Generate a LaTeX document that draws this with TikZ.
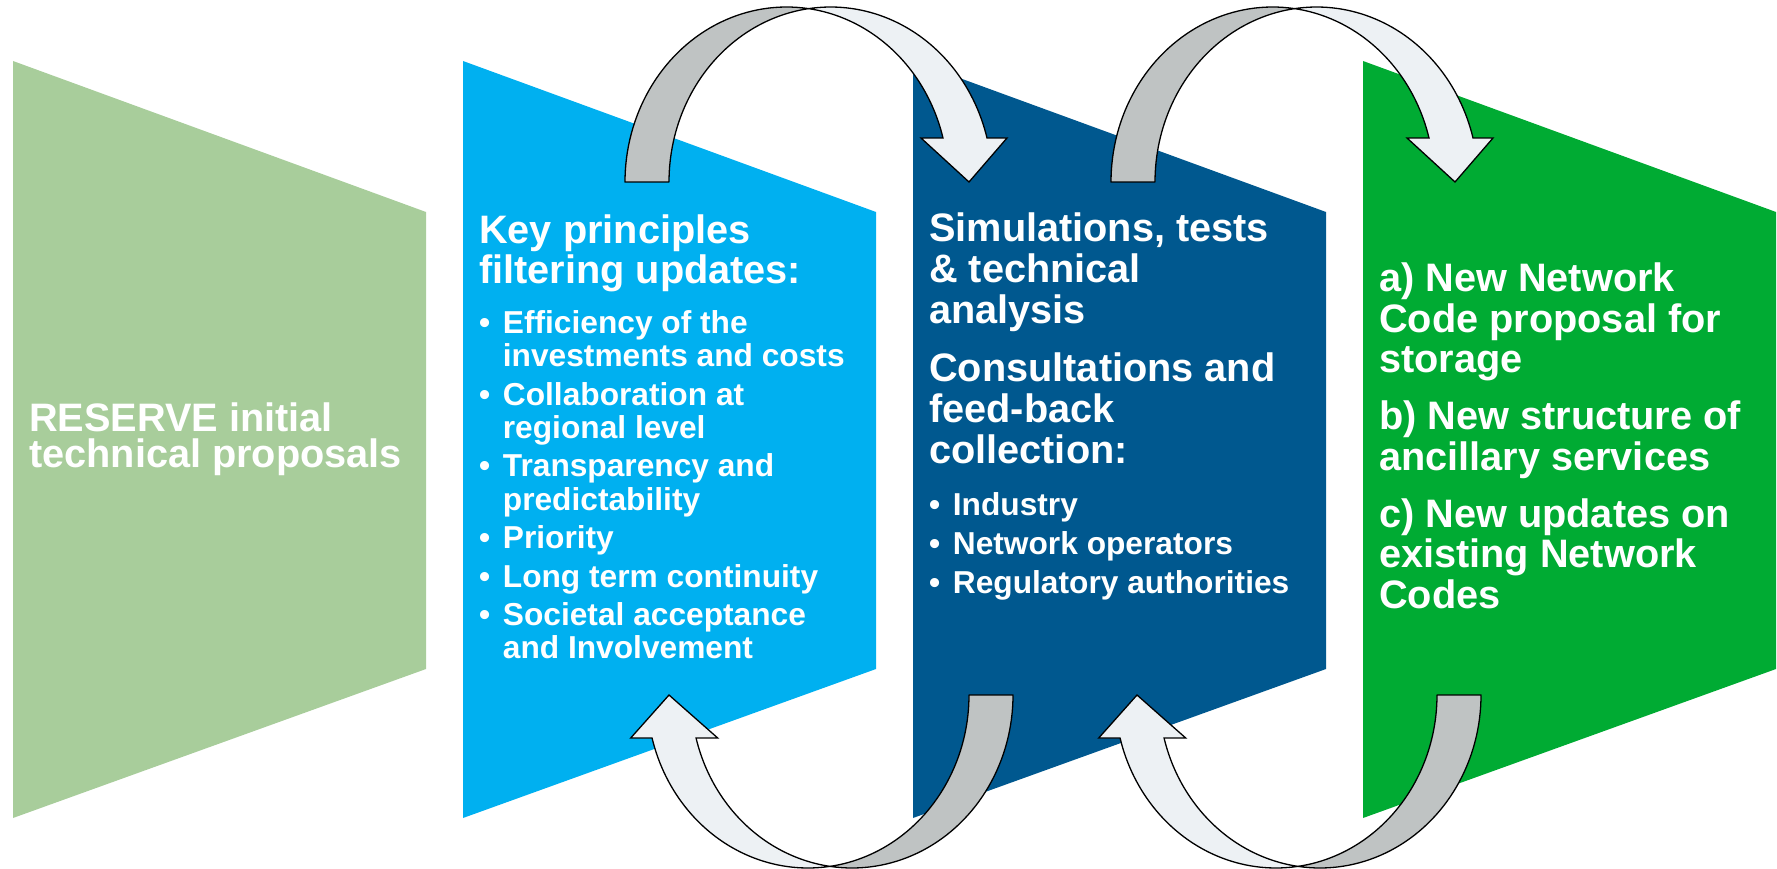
\documentclass[tikz,border=0pt]{standalone}
\usepackage{fontspec}
\setmainfont{Liberation Sans}
\definecolor{pgreenl}{HTML}{A8CD9B}
\definecolor{pbluel}{HTML}{00B0F0}
\definecolor{pblued}{HTML}{00588F}
\definecolor{pgreen}{HTML}{00AB33}
\definecolor{argray}{HTML}{BFC3C3}
\definecolor{arlight}{HTML}{EDF1F4}
\newcommand\HdBlock[2]{\vtop{\hsize=420pt\parindent=0pt\fontsize{39.7}{#1}\selectfont\bfseries\baselineskip=#1pt\lineskiplimit=-100pt\lineskip=0pt #2\par}}
\newcommand\BuBlock[2]{\vtop{\hsize=420pt\parindent=0pt\fontsize{31.7}{#1}\selectfont\bfseries\baselineskip=#1pt\lineskiplimit=-100pt\lineskip=0pt #2\par}}
\newcommand\Bul{\makebox[23.7pt][l]{\textbullet}}
\newcommand\Ind{\hspace*{23.7pt}}
\newcommand\TopArrow[1]{%
\begin{scope}[shift={(#1,0)}]
\filldraw[arrback] plot[domain=180:277.82,samples=50,variable=\t] ({786.6+161.6*cos(\t)},{182+175*sin(\t)})
  -- plot[domain=262.18:180,samples=50,variable=\t] ({830.6+161.6*cos(\t)},{182+175*sin(\t)}) -- cycle;
\filldraw[arrfront] plot[domain=262.18:345.44,samples=50,variable=\t] ({830.6+161.6*cos(\t)},{182+175*sin(\t)})
  -- (1007,138) -- (969,182) -- (921,138)
  -- plot[domain=345.44:277.82,samples=50,variable=\t] ({786.6+161.6*cos(\t)},{182+175*sin(\t)}) -- cycle;
\end{scope}}
\newcommand\BotArrow[1]{%
\begin{scope}[shift={(#1,0)}]
\filldraw[arrback] plot[domain=0:97.85,samples=50,variable=\t] ({852+161*cos(\t)},{695+173*sin(\t)})
  -- plot[domain=82.15:0,samples=50,variable=\t] ({808+161*cos(\t)},{695+173*sin(\t)}) -- cycle;
\filldraw[arrfront] plot[domain=97.85:165.6,samples=50,variable=\t] ({852+161*cos(\t)},{695+173*sin(\t)})
  -- (717.7,738) -- (669,695) -- (630.7,738)
  -- plot[domain=165.6:82.15,samples=50,variable=\t] ({808+161*cos(\t)},{695+173*sin(\t)}) -- cycle;
\end{scope}}
\tikzset{
  arrback/.style={fill=argray,draw=black,line width=1.3pt,line join=round},
  arrfront/.style={fill=arlight,draw=black,line width=1.3pt,line join=miter},
  txt/.style={text=white,inner sep=0pt,anchor=base west},
  panel/.style={fill=#1,draw=none}
}
\begin{document}
\begin{tikzpicture}[x=1pt,y=-1pt]
\useasboundingbox (0,0) rectangle (1777,869);
% panels
\path[panel=pgreenl] (13,61) -- (426,212) -- (426,669) -- (13,818) -- cycle;
\path[panel=pbluel] (463,61) -- (876,212) -- (876,669) -- (463,818) -- cycle;
\path[panel=pblued] (913,61) -- (1326,212) -- (1326,669) -- (913,818) -- cycle;
\path[panel=pgreen] (1363,61) -- (1776,212) -- (1776,669) -- (1363,818) -- cycle;
% texts
\node[txt] (t1) at (29,431.7) {\HdBlock{35.6}{RESERVE initial\\technical proposals}};
\node[txt] (t2h) at (479,243.3) {\HdBlock{40}{Key principles\\filtering updates:}};
\node[txt] (t2b) at (479,333.3) {\BuBlock{33.4}{\Bul Efficiency of the\\\Ind investments and costs\\[5pt]\Bul Collaboration at\\\Ind regional level\\[5pt]\Bul Transparency and\\\Ind predictability\\[5pt]\Bul Priority\\[5pt]\Bul Long term continuity\\[5pt]\Bul Societal acceptance\\\Ind and Involvement}};
\node[txt] (t3h) at (929,241.7) {\HdBlock{41}{Simulations, tests\\\& technical\\analysis\\[17pt]Consultations and\\feed-back\\collection:}};
\node[txt] (t3b) at (929,515) {\BuBlock{39.2}{\Bul Industry\\\Bul Network operators\\\Bul Regulatory authorities}};
\node[txt] (t4) at (1379,291.7) {\HdBlock{40.5}{a) New Network\\Code proposal for\\storage\\[16.5pt]b) New structure of\\ancillary services\\[16.5pt]c) New updates on\\existing Network\\Codes}};
% arrows
\TopArrow{0}
\TopArrow{486}
\BotArrow{0}
\BotArrow{468}
\end{tikzpicture}
\end{document}
